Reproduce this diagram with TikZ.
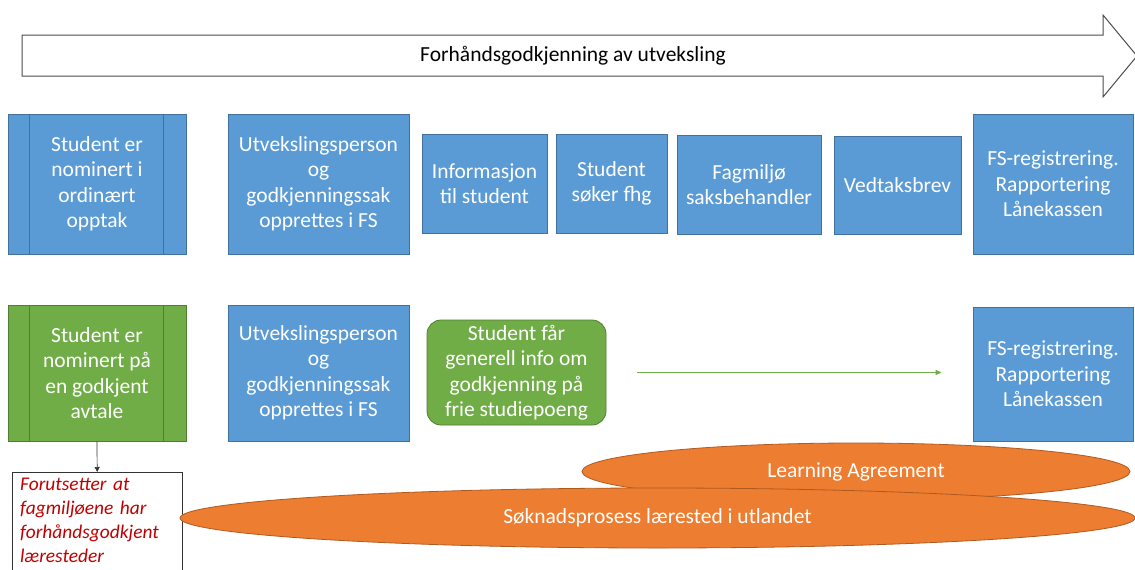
\documentclass[tikz,border=0pt]{standalone}
\usepackage{fontspec}
\setmainfont{Carlito}
\usetikzlibrary{shapes.geometric,arrows.meta}
\definecolor{oblue}{HTML}{5B9BD5}
\definecolor{obluedk}{HTML}{41719C}
\definecolor{ogreen}{HTML}{70AD47}
\definecolor{ogreendk}{HTML}{507E32}
\definecolor{oorange}{HTML}{ED7D31}
\definecolor{oorangedk}{HTML}{AE5A21}
\definecolor{ored}{HTML}{C00000}
\begin{document}
\begin{tikzpicture}[x=1pt,y=-1pt,
  boxtext/.style={font=\fontsize{21.5}{25.5}\selectfont, text=white, align=center},
  bluebox/.style={boxtext, draw=obluedk, fill=oblue, line width=0.8pt, inner sep=0pt},
  greenbox/.style={boxtext, draw=ogreendk, fill=ogreen, line width=0.8pt, inner sep=0pt},
  blob/.style={ellipse, draw=oorangedk, fill=oorange, line width=0.8pt, inner sep=0pt, text=white, font=\fontsize{21.5}{25}\selectfont},
  sideline/.style={line width=0.8pt},
  bigarrow/.style={draw=black!70, fill=white, line width=1pt},
  greenarrow/.style={ogreen, line width=1.8pt, -{Triangle[length=6pt,width=5pt]}},
  blackarrow/.style={black!80, line width=0.7pt, -{Triangle[length=5pt,width=5pt]}},
  notebox/.style={anchor=north west, text width=154pt, inner xsep=8pt, inner ysep=6pt, align=left, font=\fontsize{19.4}{24}\selectfont\itshape, text=ored},
  noteframe/.style={draw=black!80, line width=0.8pt}
]
\useasboundingbox (0,0) rectangle (1135,570);
\fill[white] (0,0) rectangle (1135,570);

% big process arrow
\draw[bigarrow] (22,35) -- (1103,35) -- (1103,15) -- (1137,56) -- (1103,97) -- (1103,76) -- (22,76) -- cycle;
\node[font=\fontsize{21.5}{25}\selectfont] (title) at (573,56) {Forhåndsgodkjenning av utveksling};

% row 1
\node[bluebox, minimum width=178, minimum height=140] (nom1) at (97,184) {Student er\\nominert i\\ordinært\\opptak};
\draw[sideline, obluedk] ([xshift=22pt]nom1.north west) -- ([xshift=22pt]nom1.south west);
\draw[sideline, obluedk] ([xshift=-23pt]nom1.north east) -- ([xshift=-23pt]nom1.south east);
\node[bluebox, minimum width=181, minimum height=140] (utv1) at (318.5,184) {Utvekslingsperson\\og\\godkjenningssak\\opprettes i FS};
\node[bluebox, minimum width=125, minimum height=99] (info) at (484.5,183.5) {Informasjon\\til student};
\node[bluebox, minimum width=111, minimum height=99] (soker) at (611.5,183.5) {Student\\søker fhg};
\node[bluebox, minimum width=144, minimum height=99] (fag) at (749,184.5) {Fagmiljø\\saksbehandler};
\node[bluebox, minimum width=127, minimum height=98] (vedtak) at (897.5,185) {Vedtaksbrev};
\node[bluebox, minimum width=160, minimum height=140] (fs1) at (1053,184) {FS-registrering.\\Rapportering\\Lånekassen};

% row 2
\node[greenbox, minimum width=178, minimum height=136] (nom2) at (97,373) {Student er\\nominert på\\en godkjent\\avtale};
\draw[sideline, ogreendk] ([xshift=22pt]nom2.north west) -- ([xshift=22pt]nom2.south west);
\draw[sideline, ogreendk] ([xshift=-23pt]nom2.north east) -- ([xshift=-23pt]nom2.south east);
\node[bluebox, minimum width=181, minimum height=136] (utv2) at (318.5,373) {Utvekslingsperson\\og\\godkjenningssak\\opprettes i FS};
\node[greenbox, rounded corners=14pt, minimum width=179, minimum height=105] (gen) at (516.5,372.5) {Student får\\generell info om\\godkjenning på\\frie studiepoeng};
\node[bluebox, minimum width=160, minimum height=134] (fs2) at (1053,374) {FS-registrering.\\Rapportering\\Lånekassen};
\draw[greenarrow, shorten <=31pt, shorten >=31pt] (gen.east) -- (gen.east -| fs2.west);

% note (frame runs past the lower edge of the picture)
\node[notebox] (note) at (12,472) {Forutsetter at\\fagmiljøene har\\forhåndsgodkjent\\læresteder};
\draw[noteframe] ([yshift=-20pt]note.south west) -- (note.north west) -- (note.north east) -- ([yshift=-20pt]note.south east);
\draw[blackarrow] (nom2.south) -- (note.north);

% ellipses
\node[blob, minimum width=548, minimum height=57] (la) at (856,471.5) {Learning Agreement};
\node[blob, minimum width=955, minimum height=60] (sok) at (657.5,518) {Søknadsprosess lærested i utlandet};
\end{tikzpicture}
\end{document}
